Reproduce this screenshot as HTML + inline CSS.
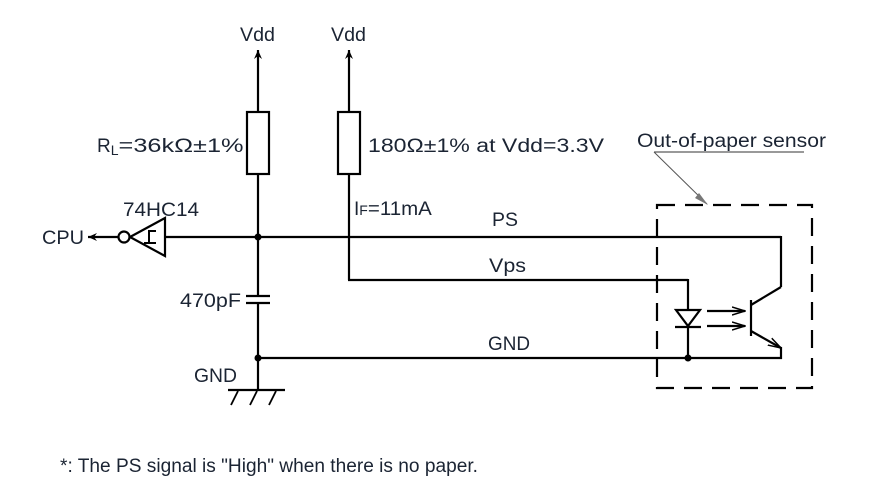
<!DOCTYPE html>
<html><head><meta charset="utf-8"><style>
html,body{margin:0;padding:0;background:#fff;}
svg{display:block;}
text{font-family:"Liberation Sans",Arial,sans-serif;fill:#1b2433;font-size:19px;}
</style></head><body>
<svg width="896" height="491" viewBox="0 0 896 491" xmlns="http://www.w3.org/2000/svg">
<defs>
<marker id="ah" markerWidth="10" markerHeight="10" refX="9" refY="5" orient="auto" markerUnits="userSpaceOnUse">
<path d="M0,1 L9,5 L0,9 L3,5 z" fill="#000"/></marker>
<marker id="ah2" markerWidth="14" markerHeight="10" refX="13" refY="5" orient="auto" markerUnits="userSpaceOnUse">
<path d="M0,1 L13,5 L0,9" fill="none" stroke="#000" stroke-width="1.5"/></marker>
</defs>
<g stroke="#000" stroke-width="2.2" fill="none">
<line x1="258" y1="112" x2="258" y2="50" marker-end="url(#ah)"/>
<line x1="349" y1="112" x2="349" y2="50" marker-end="url(#ah)"/>
<rect x="247" y="112" width="22" height="62"/>
<rect x="338" y="112" width="22" height="62"/>
<line x1="258" y1="174" x2="258" y2="296"/>
<line x1="246" y1="296" x2="270" y2="296"/>
<line x1="246" y1="303" x2="270" y2="303"/>
<line x1="258" y1="303" x2="258" y2="390"/>
<line x1="228" y1="390" x2="285" y2="390"/>
<line x1="238" y1="391" x2="231" y2="405" stroke-width="1.8"/>
<line x1="257" y1="391" x2="250" y2="405" stroke-width="1.8"/>
<line x1="276" y1="391" x2="269" y2="405" stroke-width="1.8"/>
<line x1="165" y1="237" x2="781" y2="237"/>
<line x1="781" y1="236" x2="781" y2="287"/>
<line x1="781" y1="287" x2="751" y2="305"/>
<line x1="751" y1="300" x2="751" y2="336"/>
<line x1="751" y1="331" x2="781" y2="348" marker-end="url(#ah2)"/>
<line x1="781" y1="347" x2="781" y2="359"/>
<line x1="349" y1="174" x2="349" y2="280"/>
<line x1="348" y1="280" x2="688" y2="280"/>
<line x1="688" y1="279" x2="688" y2="358"/>
<polygon points="676,310 700,310 688,326" fill="#fff"/>
<line x1="675" y1="327" x2="701" y2="327"/>
<line x1="707" y1="311" x2="745" y2="311" marker-end="url(#ah2)"/>
<line x1="707" y1="326" x2="745" y2="326" marker-end="url(#ah2)"/>
<line x1="258" y1="358" x2="782" y2="358"/>
<polygon points="130,237 165,218 165,256" fill="#fff"/>
<circle cx="124" cy="237" r="5.5" fill="#fff"/>
<path d="M144,243 L149,243 L149,231 L156,231 M149,243 L156,243" stroke-width="2"/>
<line x1="118" y1="237" x2="88" y2="237" marker-end="url(#ah)"/>
<rect x="657" y="205" width="155" height="183" stroke-dasharray="18,10"/>
</g>
<circle cx="258" cy="237" r="3.5" fill="#000"/>
<circle cx="258" cy="358" r="3.5" fill="#000"/>
<circle cx="688" cy="358" r="3.5" fill="#000"/>
<line x1="654" y1="152" x2="804" y2="152" stroke="#333" stroke-width="1"/>
<line x1="654" y1="152" x2="707" y2="204" stroke="#555" stroke-width="1"/>
<path d="M699,193 L708,205 L695,198 z" fill="#777"/>
<text x="240" y="41" textLength="35" lengthAdjust="spacingAndGlyphs">Vdd</text>
<text x="331" y="41" textLength="35" lengthAdjust="spacingAndGlyphs">Vdd</text>
<text x="97" y="152">R<tspan font-size="14" dy="3">L</tspan><tspan dy="-3" textLength="125" lengthAdjust="spacingAndGlyphs">=36kΩ±1%</tspan></text>
<text x="368" y="152" textLength="236" lengthAdjust="spacingAndGlyphs">180Ω±1%  at Vdd=3.3V</text>
<text x="637" y="147" textLength="189" lengthAdjust="spacingAndGlyphs">Out-of-paper sensor</text>
<text x="123" y="216" textLength="76" lengthAdjust="spacingAndGlyphs">74HC14</text>
<text x="354" y="215">I<tspan font-size="14">F</tspan><tspan textLength="64" lengthAdjust="spacingAndGlyphs">=11mA</tspan></text>
<text x="492" y="226" textLength="26" lengthAdjust="spacingAndGlyphs">PS</text>
<text x="42" y="244" textLength="42" lengthAdjust="spacingAndGlyphs">CPU</text>
<text x="489" y="272" textLength="37" lengthAdjust="spacingAndGlyphs">Vps</text>
<text x="180" y="307" textLength="61" lengthAdjust="spacingAndGlyphs">470pF</text>
<text x="488" y="350" textLength="42" lengthAdjust="spacingAndGlyphs">GND</text>
<text x="194" y="382" textLength="43" lengthAdjust="spacingAndGlyphs">GND</text>
<text x="60" y="472" font-size="17" textLength="418" lengthAdjust="spacingAndGlyphs">*: The PS signal is "High" when there is no paper.</text>
</svg>
</body></html>
